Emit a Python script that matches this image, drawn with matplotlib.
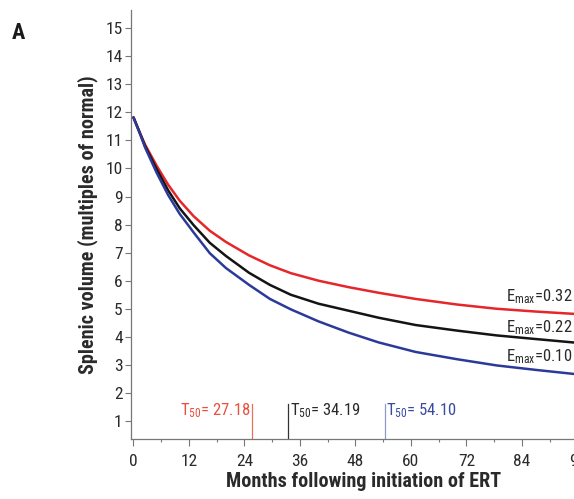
import matplotlib
matplotlib.use("Agg")
import matplotlib.pyplot as plt
from matplotlib.ticker import MultipleLocator
from matplotlib import font_manager as fm

# ---- data ----
months = [0, 1.4, 2.5, 5, 7.5, 10, 13, 16.5, 20, 25, 29.5, 34, 40, 46.5, 53, 61, 70, 78.5, 87, 95, 100]
red_vals = [11.82, 11.27, 10.85, 10.10, 9.42, 8.85, 8.30, 7.78, 7.38, 6.90, 6.55, 6.27, 6.00, 5.77,
            5.57, 5.35, 5.15, 5.00, 4.90, 4.82, 4.77]
black_vals = [11.82, 11.25, 10.80, 9.98, 9.22, 8.58, 7.98, 7.35, 6.88, 6.28, 5.85, 5.50, 5.18, 4.93,
              4.68, 4.42, 4.22, 4.05, 3.92, 3.80, 3.74]
blue_vals = [11.82, 11.24, 10.75, 9.85, 9.05, 8.38, 7.72, 6.98, 6.45, 5.85, 5.35, 4.98, 4.55, 4.15,
             3.80, 3.46, 3.20, 2.98, 2.82, 2.68, 2.60]

t50_labels = ["27.18", "34.19", "54.10"]
t50_marks = [25.7, 33.5, 54.3]
emax_labels = ["0.32", "0.22", "0.10"]
emax_y = [5.44, 4.32, 3.29]

x_ticks = [0, 12, 24, 36, 48, 60, 72, 84, 96]
y_ticks = list(range(1, 16))

RED = "#e5262b"
BLACK = "#141414"
BLUE = "#2b3a99"

# look for a condensed sans font (closest to the reference's narrow type)
cond = None
names = [f.name for f in fm.fontManager.ttflist]
for pref in ["Liberation Sans Narrow", "Roboto Condensed", "Open Sans Condensed",
             "Noto Sans Condensed", "DejaVu Sans Condensed"]:
    if pref in names:
        cond = pref
        break
if cond is None:
    for f in fm.fontManager.ttflist:
        if f.stretch in ("condensed", "semi-condensed", 500, 400) and \
                ("Sans" in f.name or "Roboto" in f.name) and isinstance(f.stretch, str):
            cond = f.name
            break
FAMILY = [cond, "Liberation Sans", "DejaVu Sans"] if cond else ["Liberation Sans", "DejaVu Sans"]
plt.rcParams["font.family"] = FAMILY
plt.rcParams["font.stretch"] = "condensed"
plt.rcParams["mathtext.fontset"] = "custom"
plt.rcParams["mathtext.rm"] = FAMILY[0]
plt.rcParams["mathtext.it"] = FAMILY[0]

fig = plt.figure(figsize=(5.74, 4.99), dpi=100)
ax = fig.add_axes([131 / 574, 60 / 499, 465 / 574, 429 / 499])

ax.plot(months, red_vals, color=RED, lw=1.8, solid_capstyle="round")
ax.plot(months, black_vals, color=BLACK, lw=1.8, solid_capstyle="round")
ax.plot(months, blue_vals, color=BLUE, lw=1.8, solid_capstyle="round")

ax.set_xlim(-0.54, 100)
ax.set_ylim(0.357, 15.65)

# T50 marker lines
line_cols = ["#e8705f", "#333333", "#8d9cc4"]
text_cols = ["#e8503f", "#2a2a2a", "#3a4aa0"]
for i, (xm, lab) in enumerate(zip(t50_marks, t50_labels)):
    ax.plot([xm, xm], [0.357, 1.6], color=line_cols[i], lw=0.9)
    txt = r"T$_{\mathrm{50}}$= " + lab
    if i == 0:
        ax.text(xm - 0.4, 1.36, txt, color=text_cols[i], fontsize=12,
                ha="right", va="center")
    else:
        ax.text(xm + 0.4, 1.36, txt, color=text_cols[i], fontsize=12,
                ha="left", va="center")

# Emax labels
for ylab, lab in zip(emax_y, emax_labels):
    ax.text(80.6, ylab, r"E$_{\mathrm{max}}$=" + lab, color="#2a2a2a",
            fontsize=12, ha="left", va="center")

ax.set_xticks(x_ticks)
ax.xaxis.set_minor_locator(MultipleLocator(6))
ax.set_yticks(y_ticks)

for s in ["top", "right"]:
    ax.spines[s].set_visible(False)
for s in ["left", "bottom"]:
    ax.spines[s].set_color("#777777")
    ax.spines[s].set_linewidth(0.9)

ax.tick_params(axis="both", which="major", direction="out", length=4,
               width=0.8, color="#777777", labelsize=12.5, labelcolor="#2a2a2a")
ax.tick_params(axis="x", which="major", length=5, pad=6)
ax.tick_params(axis="x", which="minor", direction="out", length=2.5,
               width=0.8, color="#777777")
ax.tick_params(axis="y", pad=2)

ax.set_xlabel("Months following initiation of ERT", fontsize=14.5,
              fontweight="bold", color="#2a2a2a", labelpad=2)
ax.set_ylabel("Splenic volume (multiples of normal)", fontsize=14.5,
              fontweight="bold", color="#2a2a2a", labelpad=5)

fig.text(12 / 574, 1 - 33 / 499, "A", fontsize=16, fontweight="bold",
         color="#1a1a1a", ha="left", va="center")

fig.savefig("out.png", dpi=100)
